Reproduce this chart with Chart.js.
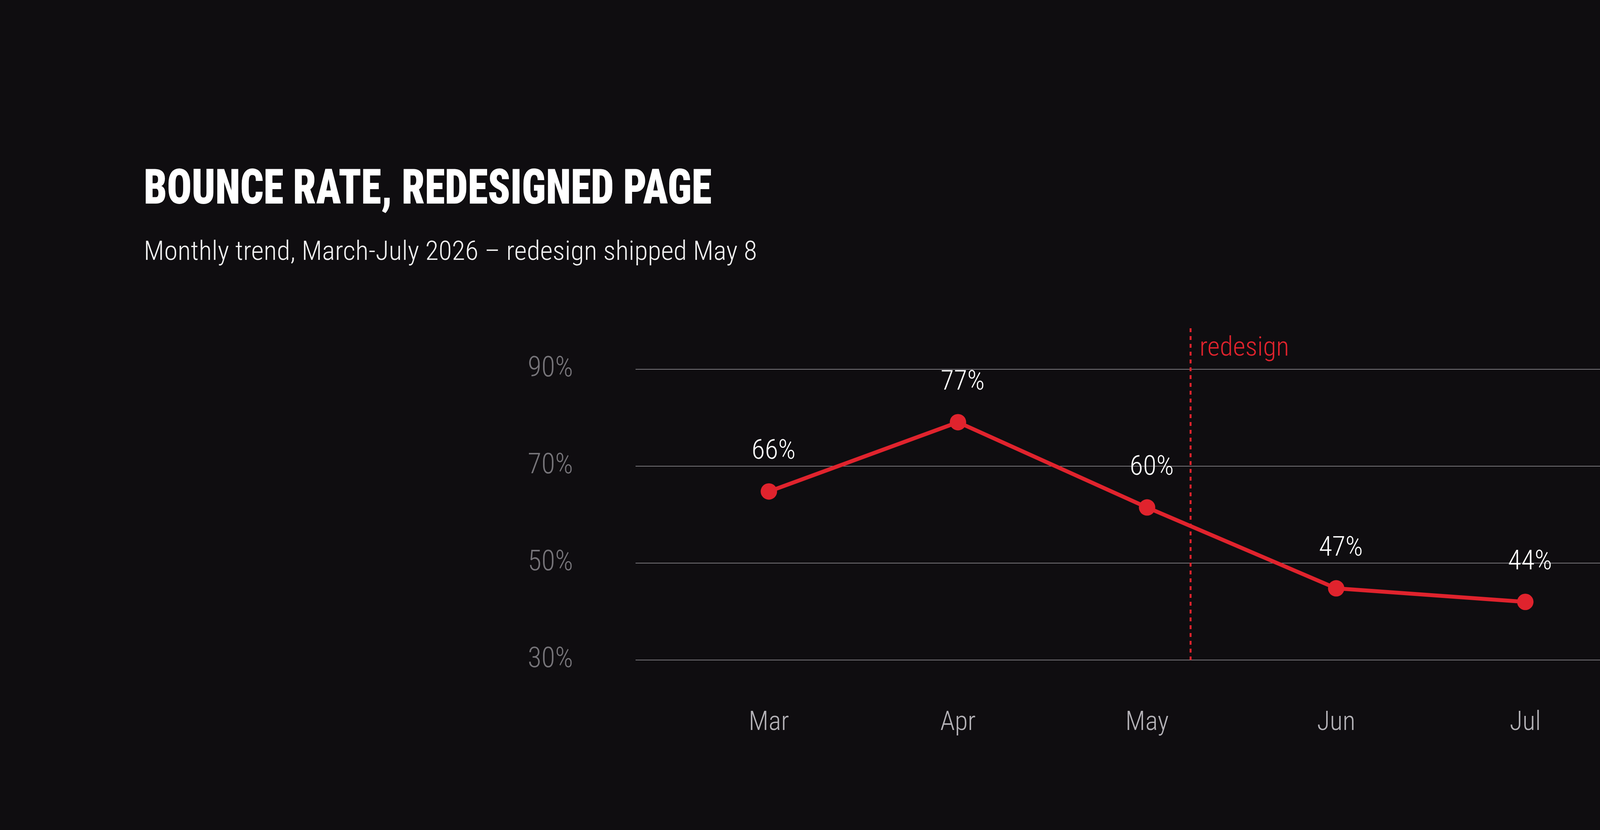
<!DOCTYPE html>
<html>
<head>
<meta charset="utf-8">
<script src="https://cdn.jsdelivr.net/npm/chart.js@4.4.1/dist/chart.umd.min.js"></script>
<style>
  html, body { margin: 0; padding: 0; background: #0f0d10; }
  body { width: 4700px; height: 2124px; position: relative; overflow: hidden; }
  .head { position: absolute; left: 368px; white-space: nowrap; line-height: 1; transform-origin: 0 0; }
  #title { top: 406px; font: 900 124px "Roboto Condensed", sans-serif; color: #ffffff; }
  #subtitle { top: 601px; font: 300 69px "Roboto Condensed", sans-serif; color: #f2f2f2; }
  #chart { position: absolute; left: 0; top: 0; }
</style>
</head>
<body>
<div id="title" class="head">BOUNCE RATE, REDESIGNED PAGE</div>
<div id="subtitle" class="head">Monthly trend, March-July 2026 – redesign shipped May 8</div>
<canvas id="chart" width="4700" height="2124"></canvas>
<script>
const months = ["Mar", "Apr", "May", "Jun", "Jul"];
const bounceRate = [64.8, 79.1, 61.5, 44.8, 42.0];
const pointLabels = ["66%", "77%", "60%", "47%", "44%"];
const yTicks = [30, 50, 70, 90];
const redesignAt = 2.23; // May 8, in month steps from Mar
const redesignText = "redesign";

const RED = "#e0232d";
const FONT = "'Roboto Condensed', sans-serif";

// squeeze heading text to the reference widths
function fitWidth(id, target) {
  const el = document.getElementById(id);
  const w = el.getBoundingClientRect().width;
  el.style.transform = "scaleX(" + (target / w) + ")";
}

const redesignLine = {
  id: "redesignLine",
  beforeDatasetsDraw(chart) {
    const { ctx, chartArea, scales } = chart;
    const x = scales.x.getPixelForValue(redesignAt);
    ctx.save();
    ctx.strokeStyle = RED;
    ctx.lineWidth = 5;
    ctx.setLineDash([10, 10]);
    ctx.beginPath();
    ctx.moveTo(x, chartArea.top);
    ctx.lineTo(x, chartArea.bottom);
    ctx.stroke();
    ctx.setLineDash([]);
    ctx.fillStyle = RED;
    ctx.font = "300 69px " + FONT;
    ctx.textAlign = "left";
    ctx.textBaseline = "alphabetic";
    ctx.fillText(redesignText, x + 23, chartArea.top + 70);
    ctx.restore();
  }
};

const valueLabels = {
  id: "valueLabels",
  afterDatasetsDraw(chart) {
    const { ctx } = chart;
    const meta = chart.getDatasetMeta(0);
    ctx.save();
    ctx.fillStyle = "#ffffff";
    ctx.font = "300 70px " + FONT;
    ctx.textAlign = "center";
    ctx.textBaseline = "middle";
    meta.data.forEach(function(pt, i) {
      ctx.fillText(pointLabels[i], pt.x + 12, pt.y - 101);
    });
    ctx.restore();
  }
};

function drawChart() {
  fitWidth("title", 1454);
  fitWidth("subtitle", 1570);

  new Chart(document.getElementById("chart").getContext("2d"), {
    type: "line",
    data: {
      datasets: [{
        data: months.map(function(m, i) { return { x: i, y: bounceRate[i] }; }),
        borderColor: RED,
        backgroundColor: RED,
        borderWidth: 10,
        pointRadius: 21,
        pointHoverRadius: 21,
        pointBorderWidth: 0,
        tension: 0
      }]
    },
    options: {
      responsive: false,
      animation: false,
      devicePixelRatio: 1,
      events: [],
      layout: { padding: { left: 1327, right: 437, top: 840, bottom: 135 } },
      plugins: { legend: { display: false }, tooltip: { enabled: false } },
      scales: {
        x: {
          type: "linear",
          min: -0.705,
          max: 4.74,
          grid: { display: false },
          border: { display: false },
          afterBuildTicks(scale) { scale.ticks = months.map(function(m, i) { return { value: i }; }); },
          afterFit(scale) { scale.height = 300; },
          ticks: {
            callback: function(v) { return months[v]; },
            color: "#b5b3b8",
            font: { family: FONT, size: 68, weight: "300" },
            padding: 113,
            maxRotation: 0
          }
        },
        y: {
          min: 30,
          max: 98.5,
          afterBuildTicks(scale) { scale.ticks = yTicks.map(function(v) { return { value: v }; }); },
          afterFit(scale) { scale.width = 300; },
          grid: { color: "#78767b", lineWidth: 2, drawTicks: false },
          border: { display: false },
          ticks: {
            callback: function(v) { return v + "%"; },
            color: "#77757a",
            font: { family: FONT, size: 72, weight: "300" },
            padding: 160
          }
        }
      }
    },
    plugins: [redesignLine, valueLabels]
  });
}

document.fonts.ready.then(drawChart);
</script>
</body>
</html>
